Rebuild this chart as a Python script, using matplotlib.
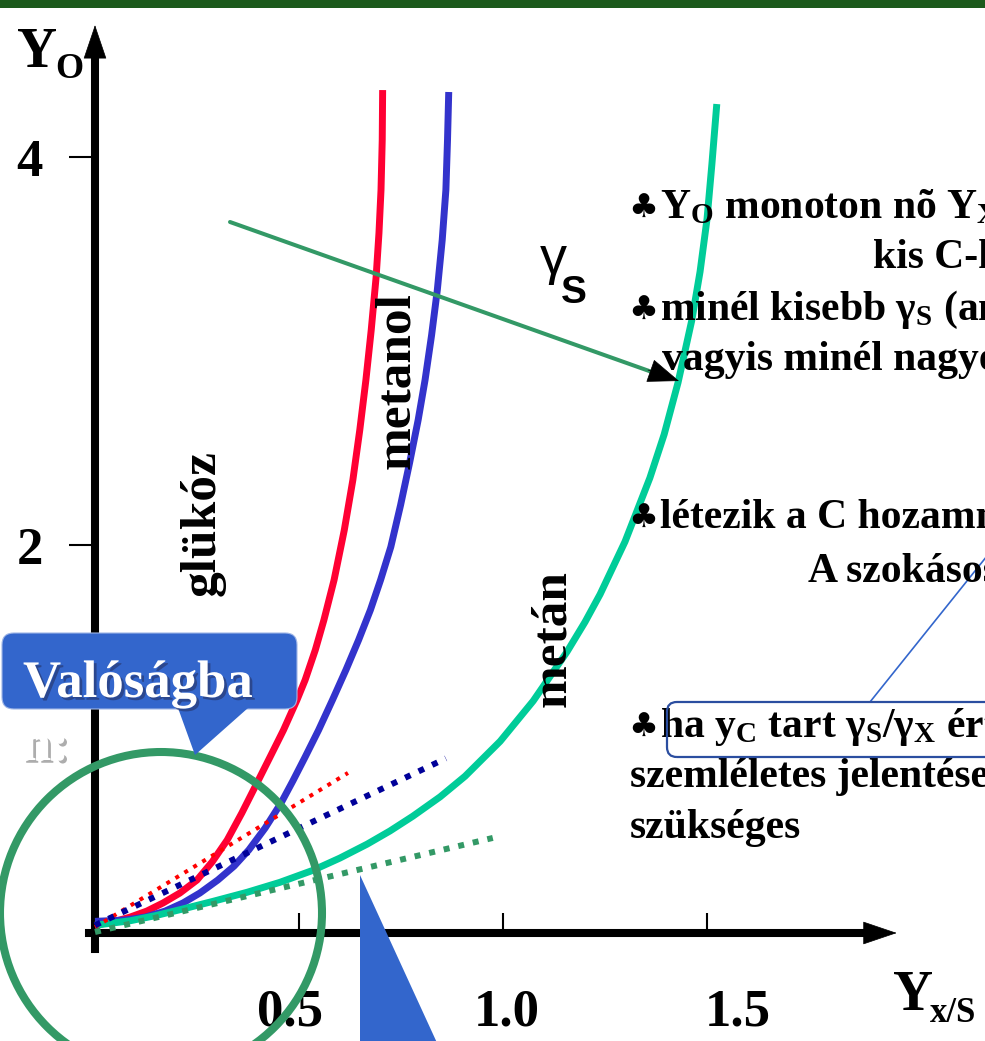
import matplotlib
matplotlib.use("Agg")
import matplotlib.pyplot as plt
from matplotlib.patches import FancyBboxPatch, Polygon, Ellipse, Rectangle
from matplotlib import patheffects as pe
from matplotlib.transforms import ScaledTranslation

# ---------------------------------------------------------------- data
# Y_O as a function of Y_x/S for three substrates
glukoz_x = [0.00, 0.044, 0.086, 0.127, 0.167, 0.208, 0.250, 0.287, 0.324, 0.360,
            0.397, 0.429, 0.462, 0.495, 0.515, 0.540, 0.561, 0.586, 0.611, 0.632,
            0.649, 0.664, 0.677, 0.689, 0.696, 0.701, 0.704, 0.705]
glukoz_y = [0.04, 0.057, 0.082, 0.113, 0.155, 0.206, 0.273, 0.366, 0.479, 0.619,
            0.773, 0.907, 1.046, 1.201, 1.304, 1.459, 1.613, 1.820, 2.077, 2.335,
            2.593, 2.851, 3.108, 3.381, 3.608, 3.830, 4.088, 4.345]

metanol_x = [0.00, 0.074, 0.123, 0.172, 0.216, 0.257, 0.301, 0.341, 0.377, 0.417,
             0.456, 0.485, 0.515, 0.548, 0.582, 0.615, 0.646, 0.675, 0.700, 0.725,
             0.749, 0.771, 0.792, 0.809, 0.825, 0.839, 0.851, 0.860, 0.864, 0.867]
metanol_y = [0.06, 0.067, 0.082, 0.113, 0.155, 0.206, 0.273, 0.345, 0.428, 0.541,
             0.670, 0.784, 0.907, 1.046, 1.201, 1.356, 1.510, 1.665, 1.820, 1.990,
             2.206, 2.423, 2.644, 2.851, 3.082, 3.314, 3.572, 3.830, 4.088, 4.335]

metan_x = [0.00, 0.086, 0.147, 0.208, 0.289, 0.373, 0.453, 0.534, 0.600, 0.667,
           0.723, 0.779, 0.846, 0.907, 0.993, 1.074, 1.157, 1.201, 1.238, 1.299,
           1.360, 1.395, 1.429, 1.463, 1.483, 1.500, 1.512, 1.524]
metan_y = [0.04, 0.063, 0.089, 0.120, 0.163, 0.210, 0.261, 0.323, 0.386, 0.458,
           0.526, 0.602, 0.702, 0.808, 0.988, 1.196, 1.450, 1.603, 1.746, 2.017,
           2.346, 2.570, 2.837, 3.161, 3.409, 3.679, 3.963, 4.273]

# initial tangents of the three curves
glukoz_tan_x = [0.00, 0.62]
glukoz_tan_y = [0.03, 0.825]
metanol_tan_x = [0.00, 0.86]
metanol_tan_y = [0.04, 0.90]
metan_tan_x = [0.00, 0.975]
metan_tan_y = [0.005, 0.49]

x_ticks = [0.5, 1.0, 1.5]
x_tick_labels = ["0.5", "1.0", "1.5"]
y_ticks = [2, 4]
y_tick_labels = ["2", "4"]

# ---------------------------------------------------------------- style
RED = "#ff0033"
BLUE = "#3333cc"
TEAL = "#00cc99"
NAVY = "#000099"
GREEN = "#339966"
CALLOUT = "#3366cc"

plt.rcParams["mathtext.fontset"] = "custom"
plt.rcParams["mathtext.rm"] = "Liberation Serif:bold"
plt.rcParams["mathtext.it"] = "Liberation Serif:bold"
plt.rcParams["mathtext.bf"] = "Liberation Serif:bold"

W, H, DPI = 985, 1041, 100
fig = plt.figure(figsize=(W / DPI, H / DPI), dpi=DPI)
fig.patch.set_facecolor("white")


def F(x, y):
    """pixel position (from top-left) -> figure fraction"""
    return (x / W, 1 - y / H)


def P(x, y):
    """pixel position (from top-left) -> figure pixels (from bottom-left)"""
    return (x, H - y)


serif = dict(family="Liberation Serif", weight="bold")

# ---------------------------------------------------------------- axes
ax = fig.add_axes([0, 0, 1, 1])
ax.set_xlim(-95 / 408, 890 / 408)
ax.set_ylim(-108 / 194, 933 / 194)
ax.patch.set_visible(False)

for side in ("top", "right"):
    ax.spines[side].set_visible(False)
ax.spines["left"].set_position(("data", 0))
ax.spines["bottom"].set_position(("data", 0))
ax.spines["left"].set_bounds(-0.08, 4.53)
ax.spines["bottom"].set_bounds(-0.015, 1.89)
for side in ("left", "bottom"):
    ax.spines[side].set_linewidth(5.8)
    ax.spines[side].set_color("black")

ax.set_xticks(x_ticks, x_tick_labels)
ax.set_yticks(y_ticks, y_tick_labels)
ax.tick_params(axis="x", direction="in", length=14.5, width=1.5, pad=40,
               labelsize=38)
ax.tick_params(axis="y", direction="out", length=18.5, width=1.5, pad=19,
               labelsize=38)
for lab in ax.get_xticklabels() + ax.get_yticklabels():
    lab.set_fontfamily("Liberation Serif")
    lab.set_fontweight("bold")
for lab, dx in zip(ax.get_xticklabels(), [-9, 4, 31]):
    lab.set_transform(lab.get_transform()
                      + ScaledTranslation(dx / DPI, 0, fig.dpi_scale_trans))

# axis arrow heads
head = dict(arrowstyle="-|>,head_length=2.3,head_width=0.78", mutation_scale=10,
            color="black", lw=0.5, shrinkA=0, shrinkB=0)
ax.annotate("", xy=(0, 4.68), xytext=(0, 4.50), arrowprops=head)
ax.annotate("", xy=(1.965, 0), xytext=(1.88, 0), arrowprops=head)

# ---------------------------------------------------------------- curves
ax.plot(glukoz_x, glukoz_y, color=RED, lw=5, solid_capstyle="butt",
        solid_joinstyle="round", zorder=3)
ax.plot(metanol_x, metanol_y, color=BLUE, lw=5, solid_capstyle="butt",
        solid_joinstyle="round", zorder=3)
ax.plot(metan_x, metan_y, color=TEAL, lw=5, solid_capstyle="butt",
        solid_joinstyle="round", zorder=3)

ax.plot(glukoz_tan_x, glukoz_tan_y, color="#ff0000", lw=2.9,
        linestyle=(0, (1, 1.6)), zorder=4)
ax.plot(metanol_tan_x, metanol_tan_y, color=NAVY, lw=4.3,
        linestyle=(0, (1, 1.5)), zorder=4)
ax.plot(metan_tan_x, metan_tan_y, color=GREEN, lw=4.3,
        linestyle=(0, (1, 1.5)), zorder=4)

# ---------------------------------------------------------------- labels
fig.text(*F(17, 67), "Y", fontsize=40, va="baseline", **serif)
fig.text(*F(55, 78), "O", fontsize=26, va="baseline", **serif)
fig.text(*F(893, 1010), "Y", fontsize=40, va="baseline", **serif)
fig.text(*F(930, 1022), "x/S", fontsize=25, va="baseline", **serif)

fig.text(*F(203, 523), "glükóz", rotation=90, ha="center", va="center",
         fontsize=37, **serif)
fig.text(*F(397, 381), "metanol", rotation=90, ha="center", va="center",
         fontsize=37, **serif)
fig.text(*F(553, 639), "metán", rotation=90, ha="center", va="center",
         fontsize=37, **serif)

fig.text(*F(540, 274), "γ", family="Liberation Sans", fontsize=39, va="baseline")
fig.text(*F(561, 303), "S", family="Liberation Sans", weight="bold",
         fontsize=28, va="baseline")

# direction of decreasing gamma_S
ax.annotate("", xy=P(652, 372), xytext=P(230, 222), xycoords="figure pixels",
            textcoords="figure pixels",
            arrowprops=dict(arrowstyle="-", color=GREEN, lw=2.9,
                            shrinkA=0, shrinkB=0))
ax.annotate("", xy=P(679, 381), xytext=P(648, 370), xycoords="figure pixels",
            textcoords="figure pixels",
            arrowprops=dict(arrowstyle="-|>,head_length=2.1,head_width=0.8",
                            mutation_scale=10, color="black", lw=0.5,
                            shrinkA=0, shrinkB=0))

# ---------------------------------------------------------------- bullet text
body = dict(fontsize=30, va="baseline", zorder=8, **serif)
club = dict(family="DejaVu Sans", fontsize=24, va="baseline", zorder=8)

fig.text(*F(628, 218), "♣", **club)
fig.text(*F(660, 218), r"Y$_O$ monoton nõ Y$_X$-szel", **body)
fig.text(*F(873, 268), "kis C-hozamnál", **body)
fig.text(*F(628, 320), "♣", **club)
fig.text(*F(660, 320), r"minél kisebb γ$_S$ (annál", **body)
fig.text(*F(662, 370), "vagyis minél nagyobb", **body)
fig.text(*F(628, 528), "♣", **club)
fig.text(*F(660, 528), "létezik a C hozamnak", **body)
fig.text(*F(808, 582), "A szokásos", **body)
fig.text(*F(628, 737), "♣", **club)
fig.text(*F(660, 737), r"ha y$_C$ tart γ$_S$/γ$_X$ értékhez", **body)
fig.text(*F(630, 787), "szemléletes jelentése", **body)
fig.text(*F(630, 838), "szükséges", **body)

fig.add_artist(FancyBboxPatch(F(667, 757), 340 / W, 55 / H,
                              boxstyle="round,pad=0,rounding_size=0.010",
                              mutation_aspect=W / H, transform=fig.transFigure,
                              fc="none", ec="#2b4ea0", lw=1.6, zorder=9))
ax.annotate("", xy=P(995, 546), xytext=P(870, 702), xycoords="figure pixels",
            textcoords="figure pixels",
            arrowprops=dict(arrowstyle="-", color=CALLOUT, lw=1.2,
                            shrinkA=0, shrinkB=0))

# ---------------------------------------------------------------- callouts
shadow = [pe.SimplePatchShadow(offset=(2, -2), shadow_rgbFace="#222244",
                               alpha=0.45), pe.Normal()]
fig.add_artist(FancyBboxPatch(F(2, 709), 295 / W, 76 / H,
                              boxstyle="round,pad=0,rounding_size=0.012",
                              mutation_aspect=W / H, transform=fig.transFigure,
                              fc=CALLOUT, ec="#9fb6e6", lw=0.8, zorder=11))
fig.add_artist(Polygon([F(178, 708), F(248, 708), F(195, 755)],
                       closed=True, transform=fig.transFigure, fc=CALLOUT,
                       ec="none", zorder=11))
fig.text(*F(23, 697), "Valóságba", color="white", fontsize=38, va="baseline",
         zorder=12, path_effects=shadow, **serif)
fig.text(*F(22, 760), "n:", color="white", fontsize=38, va="baseline",
         zorder=12, path_effects=[pe.SimplePatchShadow(offset=(2, -2),
                                                       shadow_rgbFace="#777777",
                                                       alpha=0.6), pe.Normal()],
         **serif)

fig.add_artist(Ellipse(F(161, 913), 2 * 161 / W, 2 * 161 / H,
                       transform=fig.transFigure, fill=False, ec=GREEN,
                       lw=5.8, zorder=10))
fig.add_artist(Polygon([F(360, 875), F(360, 1045), F(438, 1045)], closed=True,
                       transform=fig.transFigure, fc=CALLOUT, ec="none",
                       zorder=10))

# header band
fig.add_artist(Rectangle(F(0, 8), 1, 8 / H, transform=fig.transFigure,
                         fc="#1c5a1c", ec="none", zorder=12))

fig.savefig("out.png", dpi=DPI)
